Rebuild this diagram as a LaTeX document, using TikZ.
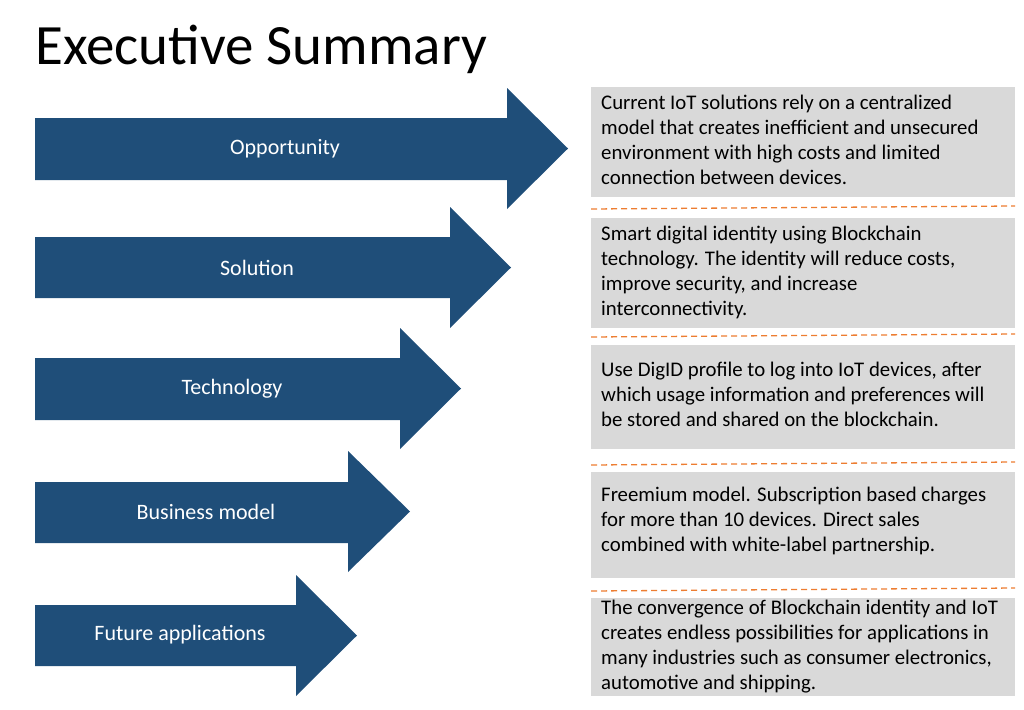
\documentclass[tikz,border=0pt]{standalone}
\usepackage{fontspec}
\setmainfont{Carlito}
\definecolor{arrowblue}{HTML}{1F4E79}
\definecolor{boxgrey}{HTML}{D9D9D9}
\definecolor{dashorange}{HTML}{ED7D31}
\begin{document}
\begin{tikzpicture}[x=1pt,y=-1pt,
  bigarrow/.style={fill=arrowblue,draw=none},
  arrowlabel/.style={text=white,font=\fontsize{22}{26}\selectfont,anchor=center},
  greybox/.style={fill=boxgrey,draw=none},
  boxtext/.style={anchor=north west,align=left,inner sep=0pt,font=\fontsize{20.8}{25}\selectfont},
  sep/.style={draw=dashorange,dashed,line width=1.3pt,dash pattern=on 6pt off 4pt}]
\useasboundingbox (0,0) rectangle (1024,709);
\node[anchor=base west,inner sep=0pt,font=\fontsize{57}{64}\selectfont] (title) at (35,64) {Executive Summary};
\foreach \br/\bt/\bb/\tip/\ht/\hb/\n in {507/118/180/568/88/209/a,450/237/298/511/207/328/b,400/358/420/461/328/449/c,348/482/543/410/451/572/d,296/605/666/357/575/696/e}{
  \fill[bigarrow] (35,\bt) -- (\br,\bt) -- (\br,\ht) -- (\tip,{(\ht+\hb)/2}) -- (\br,\hb) -- (\br,\bb) -- (35,\bb) -- cycle;
}
\node[arrowlabel] (l1) at (285,149) {Opportunity};
\node[arrowlabel] (l2) at (257,268) {Solution};
\node[arrowlabel] (l3) at (232,389) {Technology};
\node[arrowlabel] (l4) at (206,512) {Business model};
\node[arrowlabel] (l5) at (180,635) {Future applications};
\fill[greybox] (591,87) rectangle (1015,197);
\fill[greybox] (591,218) rectangle (1015,328);
\fill[greybox] (591,345) rectangle (1015,449);
\fill[greybox] (591,472) rectangle (1015,578);
\fill[greybox] (591,598) rectangle (1015,696);
\draw[sep] (591,209) -- (1015,206);
\draw[sep] (591,337) -- (1015,334);
\draw[sep] (591,465) -- (1015,462);
\draw[sep] (591,591) -- (1015,588);
\node[boxtext] (t1) at (601,95) {Current IoT solutions rely on a centralized\\model that creates inefficient and unsecured\\environment with high costs and limited\\connection between devices.};
\node[boxtext] (t2) at (601,226) {Smart digital identity using Blockchain\\technology. The identity will reduce costs,\\improve security, and increase\\interconnectivity.};
\node[boxtext] (t3) at (601,362) {Use DigID profile to log into IoT devices, after\\which usage information and preferences will\\be stored and shared on the blockchain.};
\node[boxtext] (t4) at (601,487) {Freemium model. Subscription based charges\\for more than 10 devices. Direct sales\\combined with white-label partnership.};
\node[boxtext] (t5) at (601,600) {The convergence of Blockchain identity and IoT\\creates endless possibilities for applications in\\many industries such as consumer electronics,\\automotive and shipping.};
\end{tikzpicture}
\end{document}
